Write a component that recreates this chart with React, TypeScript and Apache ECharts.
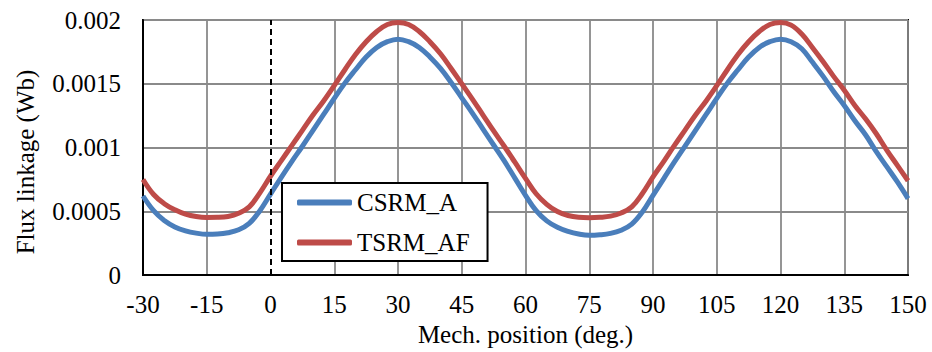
import React, { useEffect, useRef } from "react";
import * as echarts from "echarts";

const positions: number[] = [
  -30, -27.5, -25, -22.5, -20, -17.5, -15, -12.5, -10, -7.5, -5, -2.5, 0,
  2.5, 5, 7.5, 10, 12.5, 15, 17.5, 20, 22.5, 25, 27.5, 30,
  32.5, 35, 37.5, 40, 42.5, 45, 47.5, 50, 52.5, 55, 57.5, 60,
  62.5, 65, 67.5, 70, 72.5, 75, 77.5, 80, 82.5, 85, 87.5, 90,
  92.5, 95, 97.5, 100, 102.5, 105, 107.5, 110, 112.5, 115, 117.5, 120,
  122.5, 125, 127.5, 130, 132.5, 135, 137.5, 140, 142.5, 145, 147.5, 150,
];

const csrmA: number[] = [
  0.00062, 0.000505, 0.000428, 0.000378, 0.000347, 0.000329, 0.00032, 0.000322, 0.000332, 0.000355, 0.000405, 0.000505, 0.000635,
  0.000765, 0.00089, 0.00101, 0.001135, 0.00126, 0.001385, 0.001505, 0.00161, 0.00171, 0.001785, 0.00183, 0.00185,
  0.00183, 0.001785, 0.00171, 0.00162, 0.00151, 0.00139, 0.00127, 0.001145, 0.00102, 0.000895, 0.00076, 0.000625,
  0.000505, 0.000425, 0.000375, 0.000343, 0.000322, 0.000312, 0.000316, 0.000327, 0.000352, 0.0004, 0.000495, 0.000625,
  0.000755, 0.000885, 0.00101, 0.001135, 0.00126, 0.001385, 0.001505, 0.00161, 0.00171, 0.001785, 0.00183, 0.00185,
  0.00183, 0.001775, 0.00167, 0.00156, 0.00144, 0.00133, 0.00121, 0.0011, 0.00097, 0.00085, 0.00073, 0.0006,
];

const tsrmAF: number[] = [
  0.00075, 0.000632, 0.00056, 0.000512, 0.000478, 0.000459, 0.000452, 0.000453, 0.00046, 0.000485, 0.000535, 0.000645, 0.000775,
  0.000895, 0.001015, 0.001135, 0.001255, 0.001365, 0.001485, 0.00161, 0.00173, 0.00183, 0.00191, 0.001965, 0.00198,
  0.001965, 0.00191, 0.00183, 0.001735, 0.00162, 0.0015, 0.00138, 0.001255, 0.00113, 0.00101, 0.000885, 0.000758,
  0.000638, 0.000555, 0.000498, 0.000467, 0.000453, 0.00045, 0.000453, 0.000462, 0.000487, 0.000535, 0.00064, 0.00077,
  0.00089, 0.001015, 0.001135, 0.001255, 0.001365, 0.001485, 0.00161, 0.00173, 0.00183, 0.00191, 0.001965, 0.00198,
  0.00196, 0.00189, 0.001785, 0.001675, 0.001558, 0.00145, 0.00133, 0.001225, 0.00111, 0.00098, 0.00086, 0.00074,
];

const seriesNames: string[] = ["CSRM_A", "TSRM_AF"];
const xTicks = { min: -30, max: 150, interval: 15 };
const yTicks = { min: 0, max: 0.002, interval: 0.0005 };
const dashedAt = 0;

const FONT = "Liberation Serif";
const FS = 25;
const GRID = "#8a8a8a";

export default function App() {
  const ref = useRef<HTMLDivElement>(null);

  useEffect(() => {
    if (!ref.current) return;
    const chart = echarts.init(ref.current, undefined, { renderer: "svg" });
    const toPairs = (ys: number[]) => positions.map((x, i) => [x, ys[i]]);
    const nLines = Math.round((xTicks.max - xTicks.min) / xTicks.interval) + 1;
    const dashIdx = Math.round((dashedAt - xTicks.min) / xTicks.interval);
    const xSplitColors = Array.from({ length: nLines }, (_, i) =>
      i === dashIdx ? "rgba(0,0,0,0)" : GRID
    );

    chart.setOption({
      animation: false,
      backgroundColor: "#ffffff",
      textStyle: { fontFamily: FONT, color: "#000" },
      grid: {
        left: 143,
        right: 24,
        top: 20,
        bottom: 75,
        show: true,
        borderColor: "#000",
        borderWidth: 2,
      },
      legend: {
        data: seriesNames,
        orient: "vertical",
        left: 282,
        top: 183,
        padding: [7, 18, 6, 15],
        itemGap: 15,
        itemWidth: 55,
        itemHeight: 6,
        icon: "roundRect",
        backgroundColor: "#ffffff",
        borderColor: "#000",
        borderWidth: 2,
        borderRadius: 0,
        textStyle: { fontFamily: FONT, fontSize: FS, color: "#000" },
      },
      xAxis: {
        type: "value",
        min: xTicks.min,
        max: xTicks.max,
        interval: xTicks.interval,
        name: "Mech. position (deg.)",
        nameLocation: "middle",
        nameGap: 45,
        nameTextStyle: { fontFamily: FONT, fontSize: FS, color: "#000" },
        axisLine: { show: true, onZero: false, lineStyle: { color: "#000", width: 2 } },
        axisTick: { show: false },
        axisLabel: { fontFamily: FONT, fontSize: FS, color: "#000", margin: 17 },
        splitLine: { show: true, lineStyle: { color: xSplitColors, width: 1.8 } },
      },
      yAxis: {
        type: "value",
        min: yTicks.min,
        max: yTicks.max,
        interval: yTicks.interval,
        axisLine: { show: true, onZero: false, lineStyle: { color: "#000", width: 2 } },
        axisTick: { show: false },
        axisLabel: {
          fontFamily: FONT,
          fontSize: FS,
          color: "#000",
          margin: 22,
          formatter: (v: number) => String(parseFloat(v.toFixed(5))),
        },
        splitLine: { show: true, lineStyle: { color: GRID, width: 1.8 } },
      },
      graphic: [
        {
          type: "text",
          x: 25,
          y: 162,
          rotation: Math.PI / 2,
          z: 10,
          style: {
            text: "Flux linkage (Wb)",
            fontFamily: FONT,
            fontSize: FS,
            fill: "#000",
            align: "center",
            verticalAlign: "middle",
          },
        },
      ],
      series: [
        {
          name: seriesNames[0],
          type: "line",
          data: toPairs(csrmA),
          smooth: 0.4,
          showSymbol: false,
          symbol: "none",
          lineStyle: { color: "#4a7ebb", width: 5 },
          itemStyle: { color: "#4a7ebb" },
          z: 3,
          markLine: {
            silent: true,
            symbol: "none",
            label: { show: false },
            lineStyle: { color: "#000", type: [6, 4], width: 2 },
            emphasis: { disabled: true },
            data: [{ xAxis: dashedAt }],
          },
        },
        {
          name: seriesNames[1],
          type: "line",
          data: toPairs(tsrmAF),
          smooth: 0.4,
          showSymbol: false,
          symbol: "none",
          lineStyle: { color: "#be4b48", width: 5 },
          itemStyle: { color: "#be4b48" },
          z: 3,
        },
      ],
    });

    return () => chart.dispose();
  }, []);

  return (
    <div
      ref={ref}
      style={{ position: "absolute", left: 0, top: 0, width: 932, height: 352 }}
    />
  );
}
